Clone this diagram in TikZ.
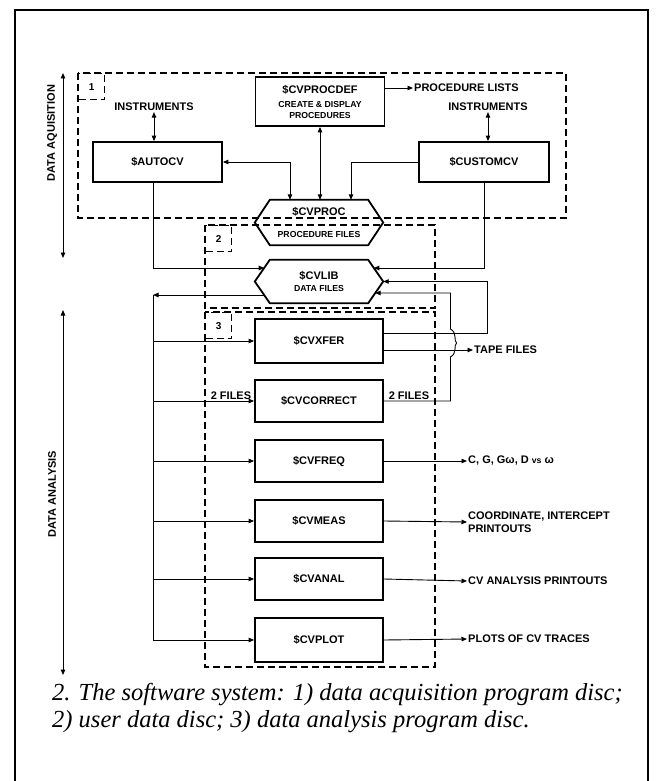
\documentclass[tikz,border=0pt]{standalone}
\usepackage{fontspec}
\newfontfamily\labelfont{Liberation Sans}
\newfontfamily\capfont{Liberation Serif}
\usetikzlibrary{arrows.meta,calc}
\newcommand{\smallfont}{\fontsize{8.7}{10}\selectfont}
\newcommand{\hexframe}[1]{\draw[line width=1.8pt] (#1.west) -- ([xshift=15pt]#1.north west) -- ([xshift=-15pt]#1.north east) -- (#1.east) -- ([xshift=-15pt]#1.south east) -- ([xshift=15pt]#1.south west) -- cycle;}
\begin{document}
\begin{tikzpicture}[x=1pt,y=-1pt,
  >={Triangle[length=5.5pt,width=4.5pt]},
  lbl/.style={font=\labelfont\bfseries\fontsize{11}{12.5}\selectfont, inner sep=1pt},
  prog/.style={lbl, draw, line width=1.8pt, minimum width=128pt, minimum height=42pt, align=center},
  hexnode/.style={lbl, minimum width=128pt, minimum height=44pt, align=center},
  wire/.style={line width=0.9pt},
  disc/.style={line width=1.4pt, dash pattern=on 7pt off 4pt},
  tag/.style={disc, draw, anchor=north west, minimum size=26pt, font=\labelfont\bfseries\fontsize{10}{11}\selectfont},
  captext/.style={font=\capfont\itshape\fontsize{24.5}{28}\selectfont, anchor=base west, inner sep=0pt}]
\useasboundingbox (0,0) rectangle (657,781);
\draw[line width=2pt] (15,781) -- (15,10) -- (648,10) -- (648,781);

% discs
\draw[disc] (78,73) rectangle (566,218);
\draw[disc] (205,225) rectangle (435,308);
\draw[disc] (205,312) rectangle (435,667);
\node[tag] (tag1) at (78,73) {1};
\node[tag] (tag2) at (205,225) {2};
\node[tag] (tag3) at (205,312) {3};

% programs
\node[prog, minimum width=129pt, minimum height=49pt] (cvprocdef) at (320,101.5) {\$CVPROCDEF\\[2pt]{\smallfont CREATE \& DISPLAY}\\[-2pt]{\smallfont PROCEDURES}};
\node[prog, minimum width=129pt, minimum height=40pt] (autocv) at (157.5,162) {\$AUTOCV};
\node[prog, minimum width=130pt, minimum height=40pt] (customcv) at (484,162) {\$CUSTOMCV};
\node[hexnode, minimum height=45pt] (cvproc) at (319,222.5) {\$CVPROC\\[9pt]{\smallfont PROCEDURE FILES}};
\node[hexnode, minimum height=43pt] (cvlib) at (319,281.5) {\$CVLIB\\[-1pt]{\smallfont DATA FILES}};
\hexframe{cvproc}
\hexframe{cvlib}
\node[prog, minimum height=44pt] (cvxfer) at (319,341) {\$CVXFER};
\node[prog] (cvcorrect) at (319,401) {\$CVCORRECT};
\node[prog] (cvfreq) at (319,461) {\$CVFREQ};
\node[prog] (cvmeas) at (319,521) {\$CVMEAS};
\node[prog] (cvanal) at (319,579) {\$CVANAL};
\node[prog, minimum height=44pt] (cvplot) at (319,640) {\$CVPLOT};

% outside labels
\node[lbl] (instl) at (154,107) {INSTRUMENTS};
\node[lbl] (instr) at (488,107) {INSTRUMENTS};
\node[lbl, anchor=west] (plists) at (413,88) {PROCEDURE LISTS};
\node[lbl, anchor=west] (tape) at (473,350) {TAPE FILES};
\node[lbl, anchor=west] (freqout) at (467,461) {C, G, Gω, D {\smallfont vs} ω};
\node[lbl, anchor=west, align=left] (measout) at (467,522) {COORDINATE, INTERCEPT\\PRINTOUTS};
\node[lbl, anchor=west] (analout) at (467,581) {CV ANALYSIS PRINTOUTS};
\node[lbl, anchor=west] (plotout) at (467,639) {PLOTS OF CV TRACES};
\node[lbl, anchor=south] (filesin) at (231,401) {2 FILES};
\node[lbl, anchor=south] (filesout) at (409,401) {2 FILES};
\node[lbl, rotate=90] (acq) at (52,133) {DATA AQUISITION};
\node[lbl, rotate=90] (ana) at (52,494) {DATA ANALYSIS};
\coordinate (acqtop) at (63,73);
\coordinate (acqbot) at (63,258);
\coordinate (anatop) at (63,310);
\coordinate (anabot) at (63,675);
\coordinate (bus) at (153,295);

% connectors
\draw[wire,<->] (acqtop) -- (acqbot);
\draw[wire,<->] (anatop) -- (anabot);
\draw[wire,<->] (instl.south) -- (instl.south |- autocv.north);
\draw[wire,<->] (instr.south) -- (instr.south |- customcv.north);
\draw[wire,->] ([yshift=13.5pt]cvprocdef.east) -- (plists.west);
\draw[wire,<->] (cvprocdef.south) -- (cvprocdef.south |- cvproc.north);
\draw[wire,<->] (autocv.east) -| ([xshift=-29pt]cvproc.north);
\draw[wire,->] (customcv.west) -| ([xshift=32pt]cvproc.north);
\draw[wire,->] ([xshift=-4pt]autocv.south) |- ([xshift=9.4pt,yshift=13.5pt]cvlib.west);
\draw[wire,->] (customcv.south) |- ([xshift=-9.4pt,yshift=13.5pt]cvlib.east);
\draw[wire,->] ([xshift=9.4pt,yshift=-13.5pt]cvlib.west) -- (bus);
\draw[wire,->] (bus) |- (cvplot.west);
\foreach \n in {cvxfer,cvcorrect,cvfreq,cvmeas,cvanal}
  \draw[wire,->] (bus |- \n.west) -- (\n.west);
\draw[wire,->] ([yshift=8pt]cvxfer.east) -- (487,333) |- (cvlib.east);
\draw[wire,->] ([yshift=-9pt]cvxfer.east) -- (tape.west);
\draw[wire,->] (cvcorrect.east) -- (450.5,401) -- (450.5,357) .. controls (457.5,353) and (453.5,345) .. (456.5,343) .. controls (453.5,341) and (457.5,333) .. (450.5,329) |- ([xshift=-8pt,yshift=-11.5pt]cvlib.east);
\foreach \n/\m in {cvfreq/freqout,cvmeas/measout,cvanal/analout,cvplot/plotout}
  \draw[wire,->] (\n.east) -- (\m.west);

% caption
\node[captext] (cap1) at (52,700) {2. The software system: 1) data acquisition program disc;};
\node[captext] (cap2) at (52,727) {2) user data disc; 3) data analysis program disc.};
\end{tikzpicture}
\end{document}
